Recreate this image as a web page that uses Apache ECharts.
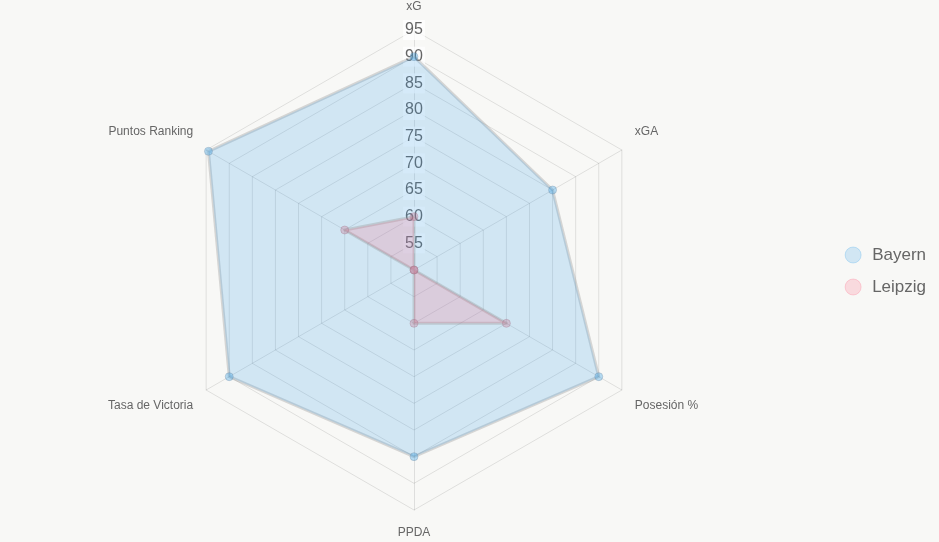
<!DOCTYPE html>
<html>
<head>
<meta charset="utf-8">
<script src="https://cdn.jsdelivr.net/npm/echarts@6/dist/echarts.min.js"></script>
<style>
  html, body { margin: 0; padding: 0; background: #f8f8f6; }
  #chart { width: 939px; height: 542px; }
</style>
</head>
<body>
<div id="chart"></div>
<script>
// ejes del radar (orden antihorario de ECharts, empezando arriba) y valores por equipo
const indicators = ['xG', 'Puntos Ranking', 'Tasa de Victoria', 'PPDA', 'Posesión %', 'xGA'];
const bayern = [90, 94.5, 90, 85, 90, 80];
const leipzig = [60, 65, 50, 60, 70, 50];
const scaleMin = 50;
const scaleMax = 95;

// desplazamiento vertical de los nombres, estilo Chart.js
const nameShift = { 'xG': 'up1', 'Puntos Ranking': 'up', 'xGA': 'up', 'Tasa de Victoria': 'down', 'Posesión %': 'down', 'PPDA': 'down1' };

const chart = echarts.init(document.getElementById('chart'));

chart.setOption({
  backgroundColor: '#f8f8f6',
  animation: false,
  legend: {
    orient: 'vertical',
    right: 8,
    top: 'middle',
    icon: 'circle',
    itemWidth: 16,
    itemHeight: 16,
    itemGap: 15,
    textStyle: { color: '#666', fontSize: 17, padding: [0, 0, 0, 6], fontFamily: 'Liberation Sans, Arial, sans-serif' },
    data: [
      { name: 'Bayern', itemStyle: { color: 'rgba(54,162,235,0.2)', borderColor: 'rgba(54,162,235,0.25)', borderWidth: 1 } },
      { name: 'Leipzig', itemStyle: { color: 'rgba(255,99,132,0.2)', borderColor: 'rgba(255,99,132,0.25)', borderWidth: 1 } }
    ]
  },
  radar: {
    center: [414, 270],
    radius: 240,
    startAngle: 90,
    shape: 'polygon',
    splitNumber: 9,
    nameGap: 15,
    axisName: {
      color: '#666',
      fontSize: 12,
      fontFamily: 'Liberation Sans, Arial, sans-serif',
      formatter: name => '{' + nameShift[name] + '|' + name + '}',
      rich: {
        up: { color: '#666', fontSize: 12, padding: [0, 0, 22, 0] },
        up1: { color: '#666', fontSize: 12, padding: [0, 0, 2, 0] },
        down: { color: '#666', fontSize: 12, padding: [16, 0, 0, 0] },
        down1: { color: '#666', fontSize: 12, padding: [2, 0, 0, 0] }
      }
    },
    splitLine: { lineStyle: { color: 'rgba(0,0,0,0.1)', width: 1 } },
    axisLine: { lineStyle: { color: 'rgba(0,0,0,0.1)', width: 1 } },
    splitArea: { show: false },
    axisLabel: { show: false },
    indicator: indicators.map((name, i) => {
      const ind = { name: name, min: scaleMin, max: scaleMax };
      if (i === 0) {
        ind.axisLabel = {
          show: true,
          color: '#666',
          fontSize: 16,
          fontFamily: 'Liberation Sans, Arial, sans-serif',
          margin: 0,
          align: 'center',
          verticalAlign: 'middle',
          backgroundColor: 'rgba(255,255,255,0.75)',
          padding: [2, 2],
          formatter: v => (v === scaleMin ? '' : v)
        };
      }
      return ind;
    })
  },
  series: [{
    type: 'radar',
    symbol: 'circle',
    symbolSize: 8,
    data: [
      {
        name: 'Bayern',
        value: bayern,
        lineStyle: { color: 'rgba(150,150,150,0.35)', width: 3 },
        itemStyle: { color: 'rgba(54,162,235,0.35)', borderColor: 'rgba(120,140,160,0.35)', borderWidth: 1 },
        areaStyle: { color: 'rgba(54,162,235,0.2)', opacity: 1 }
      },
      {
        name: 'Leipzig',
        value: leipzig,
        lineStyle: { color: 'rgba(150,150,150,0.35)', width: 3 },
        itemStyle: { color: 'rgba(200,110,140,0.3)', borderColor: 'rgba(160,120,140,0.35)', borderWidth: 1 },
        areaStyle: { color: 'rgba(255,99,132,0.2)', opacity: 1 }
      }
    ]
  }]
});
</script>
</body>
</html>
